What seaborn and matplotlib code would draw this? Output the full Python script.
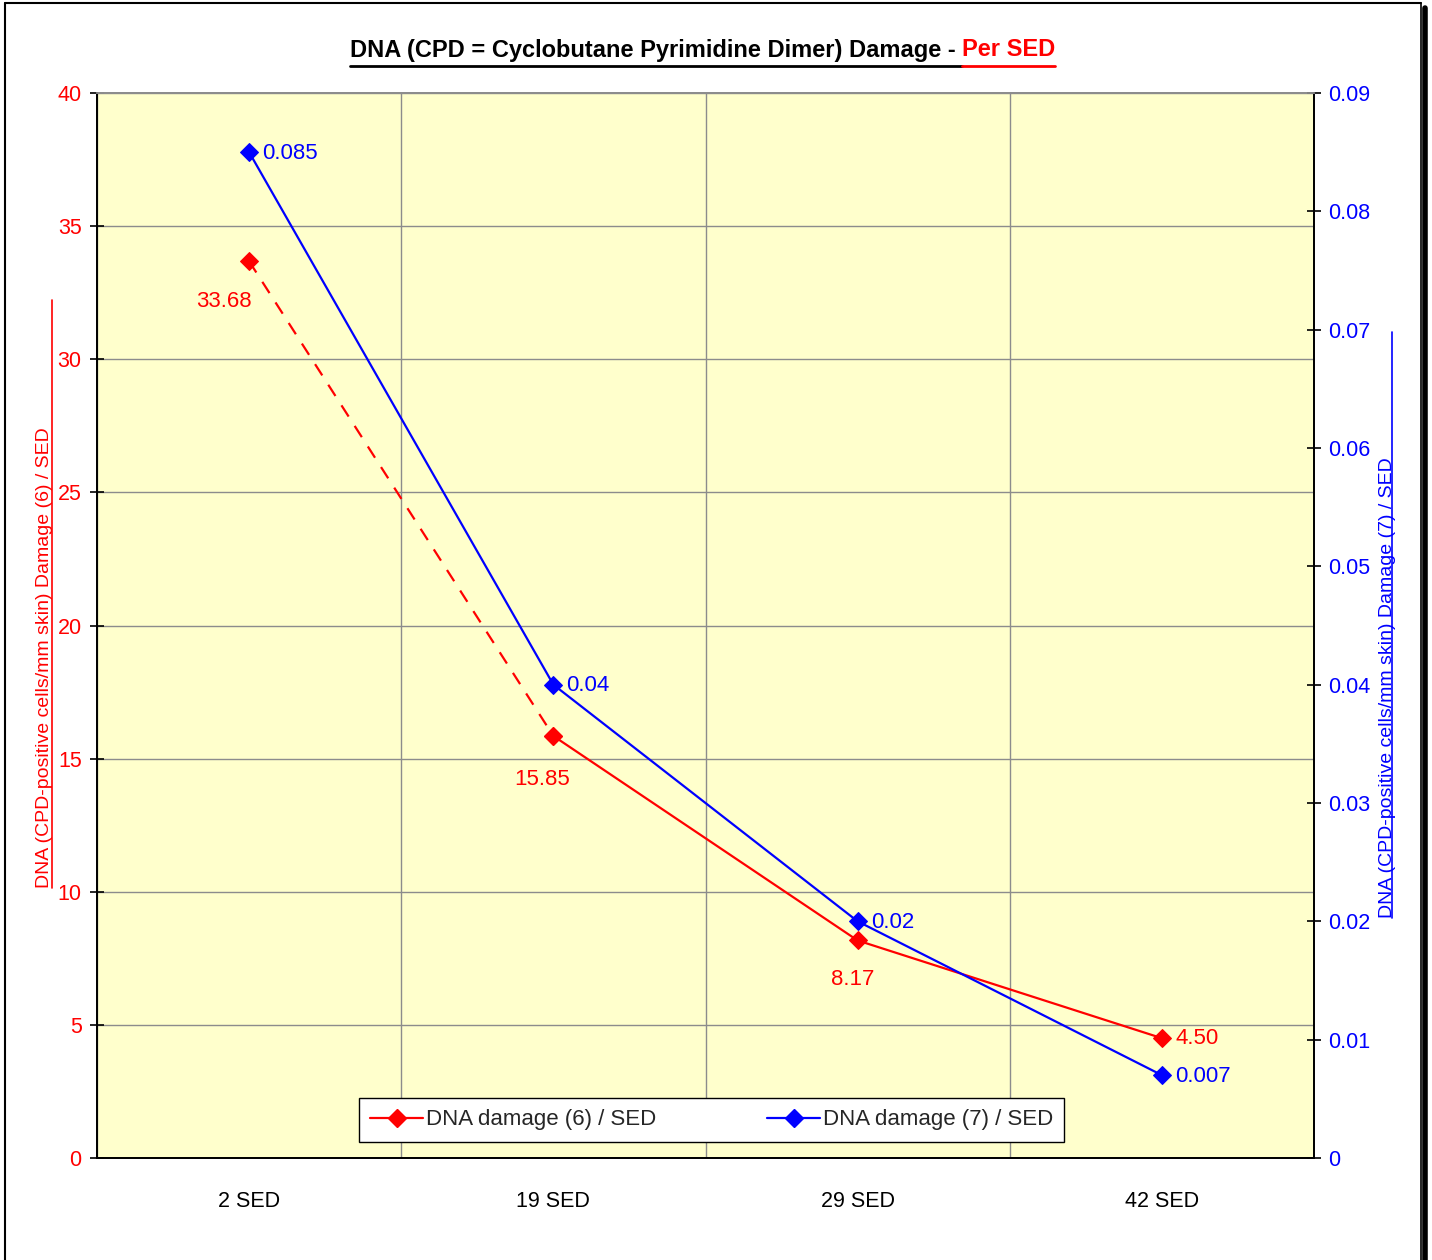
import matplotlib
matplotlib.use("Agg")
import matplotlib.pyplot as plt
from matplotlib.lines import Line2D
from matplotlib import font_manager
import seaborn as sns
import pandas as pd

categories = ["2 SED", "19 SED", "29 SED", "42 SED"]
damage6 = [33.68, 15.85, 8.17, 4.50]
damage6_labels = ["33.68", "15.85", "8.17", "4.50"]
damage7 = [0.085, 0.04, 0.02, 0.007]
damage7_labels = ["0.085", "0.04", "0.02", "0.007"]
left_ticks = [0, 5, 10, 15, 20, 25, 30, 35, 40]
right_ticks = [0, 0.01, 0.02, 0.03, 0.04, 0.05, 0.06, 0.07, 0.08, 0.09]
right_tick_labels = ["0", "0.01", "0.02", "0.03", "0.04", "0.05", "0.06", "0.07", "0.08", "0.09"]

sns.set_theme(style="white")
names = {f.name for f in font_manager.fontManager.ttflist}
fam = "Liberation Sans Narrow" if "Liberation Sans Narrow" in names else "Liberation Sans"
plt.rcParams["font.family"] = [fam, "DejaVu Sans"]

W, H = 1432, 1260
fig = plt.figure(figsize=(W / 100, H / 100), dpi=100)
fig.patch.set_facecolor("white")

def fx(px):
    return px / W

def fy(py):
    return 1 - py / H

ax = fig.add_axes([fx(97), fy(1158), fx(1314) - fx(97), fy(93) - fy(1158)])
ax.set_facecolor("#FFFFCC")
ax2 = ax.twinx()

xpos = list(range(len(categories)))
df6 = pd.DataFrame({"x": xpos, "y": damage6})
df7 = pd.DataFrame({"x": xpos, "y": damage7})

# damage (6): first segment dashed, the rest solid
sns.lineplot(data=df6.iloc[:2], x="x", y="y", ax=ax, color="red", linestyle=(0, (6, 5)),
             linewidth=1.6, marker="D", markersize=9, markeredgecolor="red", legend=False)
sns.lineplot(data=df6.iloc[1:], x="x", y="y", ax=ax, color="red", linewidth=1.6,
             marker="D", markersize=9, markeredgecolor="red", legend=False)
sns.lineplot(data=df7, x="x", y="y", ax=ax2, color="blue", linewidth=1.6,
             marker="D", markersize=9, markeredgecolor="blue", legend=False)

ax.set_xlim(-0.5, len(categories) - 0.5)
ax.set_ylim(0, 40)
ax2.set_ylim(0, 0.09)

# category labels centred, tick marks on category boundaries
ax.set_xticks(xpos)
ax.set_xticklabels(categories, fontsize=15.5, color="black")
ax.tick_params(axis="x", which="major", length=0, pad=24)
ax.set_xticks([i + 0.5 for i in range(-1, len(categories))], minor=True)
ax.tick_params(axis="x", which="minor", length=9, width=1.2, color="black", direction="out")
ax.grid(True, axis="x", which="minor", color="#8c8c8c", linewidth=1)
ax.grid(True, axis="y", which="major", color="#8c8c8c", linewidth=1)
ax.grid(False, axis="x", which="major")

ax.set_yticks(left_ticks)
ax.set_yticklabels([str(t) for t in left_ticks], fontsize=15.5, color="red")
ax.tick_params(axis="y", which="major", length=10, width=1.2, color="black", direction="inout", pad=6)
ax2.set_yticks(right_ticks)
ax2.set_yticklabels(right_tick_labels, fontsize=15.5, color="blue")
ax2.tick_params(axis="y", which="major", length=10, width=1.2, color="black", direction="inout", pad=5)
ax2.grid(False)

for a in (ax, ax2):
    a.set_xlabel("")
    a.set_ylabel("")
    for s in a.spines.values():
        s.set_linewidth(1.3)
    a.spines["top"].set_color("#8c8c8c")
    a.spines["left"].set_color("black")
    a.spines["bottom"].set_color("black")
    a.spines["right"].set_color("black")

# point labels
off6 = [(-25, -40), (-11, -44), (-5, -39), (14, 0)]
for i, (v, lab) in enumerate(zip(damage6, damage6_labels)):
    dx, dy = off6[i]
    ax.annotate(lab, (xpos[i], v), xytext=(dx, dy), textcoords="offset pixels",
                ha="center" if i < 3 else "left", va="center", fontsize=16, color="red")
for i, (v, lab) in enumerate(zip(damage7, damage7_labels)):
    ax2.annotate(lab, (xpos[i], v), xytext=(13, -1), textcoords="offset pixels",
                 ha="left", va="center", fontsize=16, color="blue")

# legend
handles = [Line2D([], [], color="red", marker="D", markersize=9, linewidth=1.6),
           Line2D([], [], color="blue", marker="D", markersize=9, linewidth=1.6)]
leg = ax2.legend(handles, ["DNA damage (6) / SED", "DNA damage (7) / SED"], ncol=2,
                 loc="center", bbox_to_anchor=((711.5 - 97) / 1217, (1158 - 1120) / 1065),
                 fontsize=16, frameon=True, fancybox=False, edgecolor="black", framealpha=1,
                 facecolor="white", handlelength=2.4, handletextpad=0.1, columnspacing=5.0,
                 borderpad=0.5, borderaxespad=0)
leg.get_frame().set_linewidth(1.0)
leg.set_zorder(10)

# axis titles with their leader lines
fig.text(fx(45), fy(888), "DNA (CPD-positive cells/mm skin) Damage (6) / SED", rotation=90,
         ha="center", va="bottom", fontsize=14, color="red")
fig.add_artist(Line2D([fx(52), fx(52)], [fy(300), fy(888)], color="red", linewidth=1.2))
fig.text(fx(1387), fy(918), "DNA (CPD-positive cells/mm skin) Damage (7) / SED", rotation=90,
         ha="center", va="bottom", fontsize=14, color="blue")
fig.add_artist(Line2D([fx(1392), fx(1392)], [fy(332), fy(918)], color="blue", linewidth=1.2))

# title in two colours, each part underlined
t1 = fig.text(fx(962), fy(50), "DNA (CPD = Cyclobutane Pyrimidine Dimer) Damage - ",
              ha="right", va="center", fontsize=17, fontweight="bold", color="black")
t2 = fig.text(fx(962), fy(50), "Per SED", ha="left", va="center", fontsize=17,
              fontweight="bold", color="red")
fig.canvas.draw()
r = fig.canvas.get_renderer()
b1 = t1.get_window_extent(r)
b2 = t2.get_window_extent(r)
uy = fy(66)
fig.add_artist(Line2D([b1.x0 / W, b2.x0 / W], [uy, uy], color="black", linewidth=2))
fig.add_artist(Line2D([b2.x0 / W, b2.x1 / W], [uy, uy], color="red", linewidth=2))

# outer frame with shadow on the right
fig.add_artist(Line2D([fx(5), fx(5)], [fy(3), 0], color="black", linewidth=1.5))
fig.add_artist(Line2D([fx(5), fx(1421)], [fy(3), fy(3)], color="black", linewidth=1.5))
fig.add_artist(Line2D([fx(1421), fx(1421)], [fy(3), 0], color="black", linewidth=1.2))
fig.add_artist(Line2D([fx(1424.5), fx(1424.5)], [fy(8), 0], color="black", linewidth=4))

fig.savefig("out.png", dpi=100, facecolor="white")
